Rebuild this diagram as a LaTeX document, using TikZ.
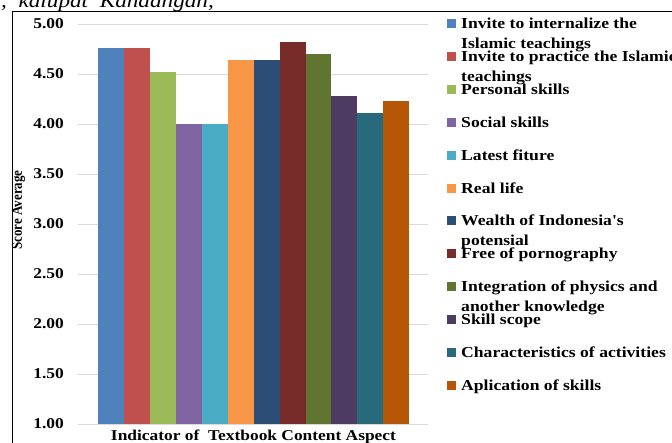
\documentclass[tikz,border=0pt]{standalone}
\usepackage{fontspec}
\setmainfont{Liberation Serif}
\newfontfamily\chartfont{Liberation Serif}[FakeStretch=1.16]
\definecolor{cA}{HTML}{4F81BD}
\definecolor{cB}{HTML}{C0504D}
\definecolor{cC}{HTML}{9BBB59}
\definecolor{cD}{HTML}{8064A2}
\definecolor{cE}{HTML}{4BACC6}
\definecolor{cF}{HTML}{F79646}
\definecolor{cG}{HTML}{2C4D75}
\definecolor{cH}{HTML}{772C2A}
\definecolor{cI}{HTML}{5F7530}
\definecolor{cJ}{HTML}{4D3B62}
\definecolor{cK}{HTML}{276A7C}
\definecolor{cL}{HTML}{B65708}
\definecolor{gridc}{HTML}{D9D9D9}
\newcommand\legtwo[2]{\vtop{\baselineskip=20pt\lineskiplimit=0pt\hbox{#1}\hbox{#2}}}
\begin{document}
\begin{tikzpicture}[x=1pt,y=-1pt,
  ticklab/.style={anchor=east,inner sep=0pt,font=\chartfont\bfseries\fontsize{15}{18}\selectfont},
  legtext/.style={anchor=base west,inner sep=0pt,font=\chartfont\bfseries\fontsize{15.2}{18}\selectfont},
  legsq/.style={inner sep=0pt,minimum size=9pt},
  barbox/.style={anchor=south,inner sep=0pt,minimum width=25.9pt,outer sep=0pt},
  gridline/.style={draw=gridc,line width=1pt},
  axtitle/.style={inner sep=0pt,font=\chartfont\bfseries\fontsize{15}{18}\selectfont}]
\useasboundingbox (0,0) rectangle (672,442);
\begin{scope}
\clip (0,0) rectangle (672,442);
% cut-off text at top
\node[anchor=base west,inner sep=0pt,font=\chartfont\itshape\fontsize{20}{22}\selectfont] (cuttext) at (1,7) {,\ \ kalupat\ \ Kandangan,};
% frame
\draw[line width=1pt] (12,460) -- (12,11) -- (700,11);
% gridlines and tick labels
\foreach \v/\lab [count=\k] in {1/1.00,1.5/1.50,2/2.00,2.5/2.50,3/3.00,3.5/3.50,4/4.00,4.5/4.50,5/5.00}{
  \draw[gridline] (78,{424-(\v-1)*100}) -- (428,{424-(\v-1)*100});
  \node[ticklab] (tick\k) at (64,{424-(\v-1)*100}) {\lab};
}
% bars
\foreach \v/\c [count=\i from 0] in {4.76/cA,4.76/cB,4.52/cC,4.00/cD,4.00/cE,4.64/cF,4.64/cG,4.82/cH,4.70/cI,4.28/cJ,4.11/cK,4.23/cL}{
  \node[barbox,fill=\c,minimum height={(\v-1)*100pt}] (bar\i) at ({98.3+25.9*\i+12.95},424) {};
}
% legend
\foreach \c/\t [count=\i from 0] in {
  cA/{\legtwo{Invite to internalize the}{Islamic teachings}},
  cB/{\legtwo{Invite to practice the Islamic}{teachings}},
  cC/{Personal skills},
  cD/{Social skills},
  cE/{Latest fiture},
  cF/{Real life},
  cG/{\legtwo{Wealth of Indonesia's}{potensial}},
  cH/{Free of pornography},
  cI/{\legtwo{Integration of physics and}{another knowledge}},
  cJ/{Skill scope},
  cK/{Characteristics of activities},
  cL/{Aplication of skills}}{
  \node[legsq,fill=\c] (sq\i) at (451.5,{23.5+32.9*\i}) {};
  \node[legtext] (lg\i) at (461,{28.5+32.9*\i}) {\t};
}
% axis titles
\node[axtitle,anchor=base] (xtitle) at (253.5,440) {Indicator of\ \ Textbook Content Aspect};
\node[inner sep=0pt,rotate=90,font=\bfseries\fontsize{13}{15}\selectfont] (ytitle) at (18.5,210) {\scalebox{1}[1.15]{Score Average}};
\end{scope}
\end{tikzpicture}
\end{document}
